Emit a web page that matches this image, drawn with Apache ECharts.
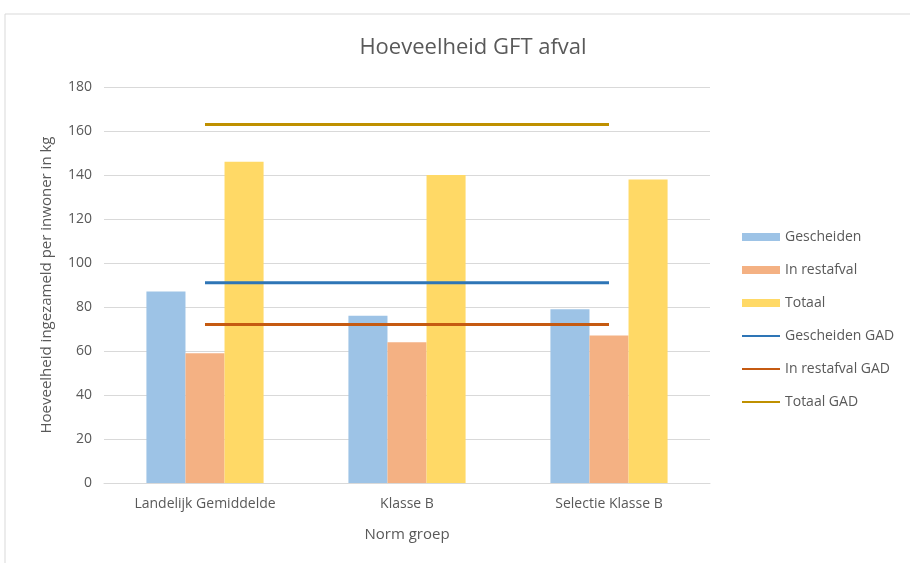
<!DOCTYPE html>
<html>
<head>
<meta charset="utf-8">
<script src="https://cdn.jsdelivr.net/npm/echarts@6/dist/echarts.min.js"></script>
<style>
  html, body { margin: 0; padding: 0; background: #fff; }
  #chart { width: 910px; height: 563px; }
</style>
</head>
<body>
<div id="chart"></div>
<script>
// categorieën en waarden (kg per inwoner)
const categories = ['Landelijk Gemiddelde', 'Klasse B', 'Selectie Klasse B']
const gescheiden = [87, 76, 79]
const inRestafval = [59, 64, 67]
const totaal = [146, 140, 138]
// GAD referentielijnen
const gescheidenGAD = [91, 91, 91]
const inRestafvalGAD = [72, 72, 72]
const totaalGAD = [163, 163, 163]

const textColor = '#595959'
const font = '"Open Sans", "DejaVu Sans", sans-serif'

let chart = echarts.init(document.getElementById('chart'))

let option = {
  animation: false,
  textStyle: { fontFamily: font },
  title: {
    text: 'Hoeveelheid GFT afval',
    left: 468,
    textAlign: 'center',
    top: 32,
    textStyle: { color: textColor, fontSize: 22, fontWeight: 'normal', fontFamily: font }
  },
  graphic: [{
    type: 'rect',
    shape: { x: 5, y: 14, width: 920, height: 560 },
    style: { fill: 'none', stroke: '#d9d9d9', lineWidth: 1 },
    silent: true
  }],
  grid: {
    left: 104,
    right: 200,
    top: 87,
    bottom: 80
  },
  legend: {
    orient: 'vertical',
    left: 736,
    top: 225,
    itemWidth: 38,
    itemHeight: 8,
    itemGap: 19,
    textStyle: { color: textColor, fontSize: 14, fontFamily: font },
    data: [
      { name: 'Gescheiden', icon: 'rect' },
      { name: 'In restafval', icon: 'rect' },
      { name: 'Totaal', icon: 'rect' },
      { name: 'Gescheiden GAD', itemStyle: { opacity: 0 } },
      { name: 'In restafval GAD', itemStyle: { opacity: 0 } },
      { name: 'Totaal GAD', itemStyle: { opacity: 0 } }
    ]
  },
  xAxis: {
    type: 'category',
    data: categories,
    name: 'Norm groep',
    nameLocation: 'middle',
    nameGap: 44,
    nameTextStyle: { color: textColor, fontSize: 15 },
    axisTick: { show: false },
    axisLine: { lineStyle: { color: '#d9d9d9' } },
    axisLabel: { color: textColor, fontSize: 14, margin: 14 }
  },
  yAxis: {
    type: 'value',
    min: 0,
    max: 180,
    interval: 20,
    name: 'Hoeveelheid ingezameld per inwoner in kg',
    nameLocation: 'middle',
    nameGap: 50,
    nameTextStyle: { color: textColor, fontSize: 15 },
    axisLine: { show: false },
    axisTick: { show: false },
    axisLabel: { color: textColor, fontSize: 14, margin: 12 },
    splitLine: { lineStyle: { color: '#d9d9d9' } }
  },
  series: [
    { name: 'Gescheiden', type: 'bar', data: gescheiden, barGap: '0%', barCategoryGap: '42%', itemStyle: { color: '#9dc3e6' } },
    { name: 'In restafval', type: 'bar', data: inRestafval, itemStyle: { color: '#f4b183' } },
    { name: 'Totaal', type: 'bar', data: totaal, itemStyle: { color: '#ffd966' } },
    { name: 'Gescheiden GAD', type: 'line', data: gescheidenGAD, symbol: 'none', lineStyle: { color: '#2e75b6', width: 3 }, itemStyle: { color: '#2e75b6' } },
    { name: 'In restafval GAD', type: 'line', data: inRestafvalGAD, symbol: 'none', lineStyle: { color: '#c55a11', width: 3 }, itemStyle: { color: '#c55a11' } },
    { name: 'Totaal GAD', type: 'line', data: totaalGAD, symbol: 'none', lineStyle: { color: '#bf9000', width: 3 }, itemStyle: { color: '#bf9000' } }
  ]
}
chart.setOption(option)
</script>
</body>
</html>
